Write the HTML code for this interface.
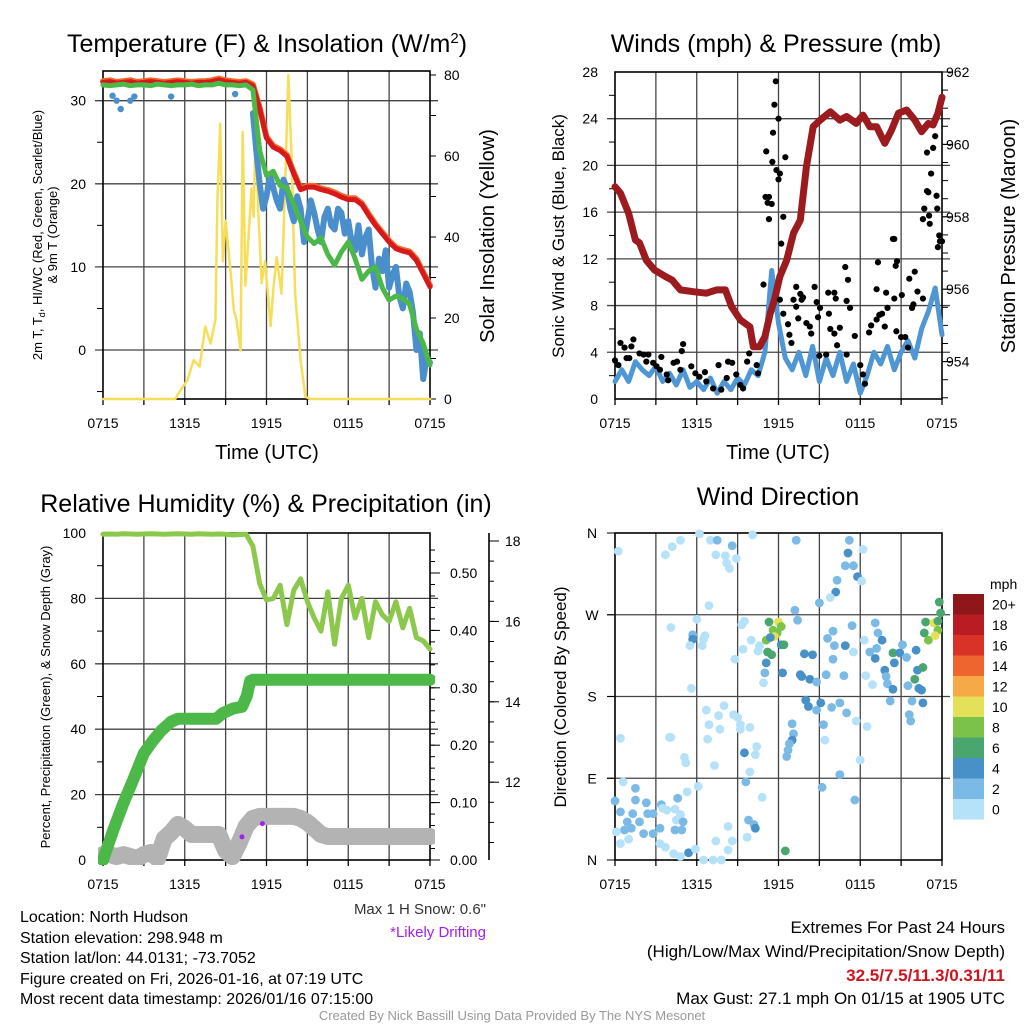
<!DOCTYPE html>
<html><head><meta charset="utf-8">
<style>
body{margin:0;background:#fff;width:1024px;height:1024px;overflow:hidden}
svg{display:block;font-family:"Liberation Sans",Arial,sans-serif}
</style></head>
<body>
<svg id="chart" width="1024" height="1024" viewBox="0 0 1024 1024" xmlns="http://www.w3.org/2000/svg">
<defs>
<clipPath id="c1"><rect x="98" y="60" width="337" height="345"/></clipPath>
<clipPath id="c2"><rect x="610" y="60" width="337" height="345"/></clipPath>
<clipPath id="c3"><rect x="98" y="520" width="337" height="345"/></clipPath>
</defs>
<g id="layer"></g>
<!-- titles -->
<text x="267" y="52" font-size="25" text-anchor="middle">Temperature (F) &amp; Insolation (W/m<tspan dy="-9" font-size="15">2</tspan><tspan dy="9">)</tspan></text>
<text x="776" y="52" font-size="25" text-anchor="middle">Winds (mph) &amp; Pressure (mb)</text>
<text x="266" y="512" font-size="25" text-anchor="middle">Relative Humidity (%) &amp; Precipitation (in)</text>
<text x="778" y="505" font-size="25" text-anchor="middle">Wind Direction</text>
<!-- axis titles -->
<text transform="translate(42,235) rotate(-90)" font-size="13" text-anchor="middle">2m T, T<tspan dy="3" font-size="9">d</tspan><tspan dy="-3">, HI/WC (Red, Green, Scarlet/Blue)</tspan></text>
<text transform="translate(57,235) rotate(-90)" font-size="13" text-anchor="middle">&amp; 9m T (Orange)</text>
<text transform="translate(494,236) rotate(-90)" font-size="20" text-anchor="middle">Solar Insolation (Yellow)</text>
<text x="267" y="459" font-size="20" text-anchor="middle">Time (UTC)</text>
<text transform="translate(564,236) rotate(-90)" font-size="17" text-anchor="middle">Sonic Wind &amp; Gust (Blue, Black)</text>
<text transform="translate(1015,236) rotate(-90)" font-size="20" text-anchor="middle">Station Pressure (Maroon)</text>
<text x="778" y="459" font-size="20" text-anchor="middle">Time (UTC)</text>
<text transform="translate(50,697) rotate(-90)" font-size="13" text-anchor="middle">Percent, Precipitation (Green), &amp; Snow Depth (Gray)</text>
<text transform="translate(566,697) rotate(-90)" font-size="17" text-anchor="middle">Direction (Colored By Speed)</text>
<text x="990" y="589" font-size="14">mph</text>
<!-- info text -->
<g font-size="16">
<text x="20" y="922">Location: North Hudson</text>
<text x="20" y="943">Station elevation: 298.948 m</text>
<text x="20" y="963">Station lat/lon: 44.0131; -73.7052</text>
<text x="20" y="984">Figure created on Fri, 2026-01-16, at 07:19 UTC</text>
<text x="20" y="1004">Most recent data timestamp: 2026/01/16 07:15:00</text>
</g>
<text x="486" y="914" font-size="15" fill="#333" text-anchor="end">Max 1 H Snow: 0.6"</text>
<text x="486" y="937" font-size="15" fill="#a020f0" text-anchor="end">*Likely Drifting</text>
<g font-size="17" text-anchor="end">
<text x="1005" y="933">Extremes For Past 24 Hours</text>
<text x="1005" y="957">(High/Low/Max Wind/Precipitation/Snow Depth)</text>
<text x="1005" y="981" font-weight="bold" fill="#d0141e">32.5/7.5/11.3/0.31/11</text>
<text x="1005" y="1004">Max Gust: 27.1 mph On 01/15 at 1905 UTC</text>
</g>
<text x="512" y="1020" font-size="13" fill="#999" text-anchor="middle">Created By Nick Bassill Using Data Provided By The NYS Mesonet</text>
</svg>
<script>
// ===== data =====
const xTickLabels = ["0715","1315","1915","0115","0715"];
const halfHours = [];
for (let i = 0; i <= 48; i++) halfHours.push(i / 2);
const tempRed = [32.2,32.3,32.1,32.2,32.3,32.1,32.2,32.3,32.2,32.1,32.2,32.3,32.2,32.1,32.2,32.2,32.3,32.5,32.3,32.2,32.1,32.2,31.8,29.0,25.5,24.4,24.0,23.3,21.2,19.3,19.6,19.6,19.3,19.1,18.8,18.4,18.1,18.1,17.5,16.2,15.0,14.0,13.0,12.2,11.9,11.7,10.8,9.2,7.6];
const tempGreen = [31.9,31.8,31.9,32.0,31.8,31.9,31.9,31.8,32.0,31.9,31.8,31.9,31.9,32.0,31.8,31.9,31.9,32.1,31.9,31.9,31.8,31.9,31.3,24.0,21.0,21.5,19.8,19.5,17.5,15.5,13.6,12.8,13.5,11.5,10.2,11.8,13.0,11.0,8.5,9.5,10.0,7.5,6.0,6.5,6.2,5.5,2.5,0.8,-1.8];
const wcHours = [11,11.25,11.5,11.75,12,12.25,12.5,12.75,13,13.25,13.5,13.75,14,14.25,14.5,14.75,15,15.25,15.5,15.75,16,16.25,16.5,16.75,17,17.25,17.5,17.75,18,18.25,18.5,18.75,19,19.25,19.5,19.75,20,20.25,20.5,20.75,21,21.25,21.5,21.75,22,22.25,22.5,22.75,23,23.25,23.5,23.75,24];
const wcVals = [28.5,24,20,17,18.5,21,19.5,18,17,20.5,19.5,17,15.5,18.5,17,13,15.5,18,16.5,14.5,13,16,17,15,14.5,17,16.5,14,15.5,13,12,15,11.5,13.5,14.5,10,7.5,11,9.5,12,7.5,9,10,6.5,5,8,7,4.5,0,2,-3.5,-1,-1.5];
const wcEarlyHours = [0.7,1.0,1.3,2.0,2.3,5.0,9.7];
const wcEarlyVals = [30.6,30.0,29.0,30.0,30.5,30.5,30.8];
const insolHours = [0,5.3,5.55,6.2,6.65,7.1,7.5,7.9,8.25,8.4,8.6,8.8,9.0,9.35,9.6,9.8,10.1,10.25,10.45,10.7,10.9,11.05,11.2,11.4,11.65,11.9,12.3,12.5,12.75,13.1,13.4,13.6,13.85,14.1,14.5,14.85,15.2,24];
const insolVals = [0,0,1.4,4.7,9.6,8,17.9,13.7,19.5,49,68,34,44,32,22,19.5,12,66,28,41,52,45,66,46,28.6,34,18,27,35,26,56.5,80,59,26,9.6,0.6,0,0];
const windVals = [1.5,2.5,1.5,3.2,2.5,2.0,2.8,1.5,2.2,1.2,2.5,1.0,1.5,0.8,1.8,0.5,1.5,0.8,1.8,1.2,2.5,2.0,4.0,11.0,6.5,3.5,2.5,4.0,2.0,4.5,1.5,3.5,2.0,4.0,1.5,3.0,0.5,2.0,4.0,3.0,4.5,2.5,4.0,5.0,3.5,6.0,7.5,9.5,5.5];
const presHours = [0,0.4,1.0,1.5,1.8,2.3,2.9,3.7,4.2,4.8,5.75,6.7,7.45,8.1,8.55,9.2,9.9,10.15,10.6,11.0,11.4,11.7,12.1,12.6,13.1,13.6,14.05,14.55,15.05,15.8,16.5,17.0,17.7,18.2,18.7,19.2,19.8,20.3,20.8,21.4,22.0,22.5,23.0,23.35,23.7,24];
const presVals = [958.83,958.65,958.1,957.36,957.28,956.8,956.53,956.35,956.25,955.98,955.93,955.89,955.98,955.98,955.52,955.15,954.96,954.41,954.41,954.69,955.34,955.7,956.35,956.8,957.55,957.91,959.38,960.49,960.67,960.9,960.67,960.77,960.58,960.81,960.49,960.49,960.03,960.4,960.86,960.95,960.67,960.35,960.58,960.54,960.86,961.3];
const gustHours = [0,0.4,0.25,0.7,0.85,1.2,1.35,1.05,1.8,2.1,2.45,2.3,2.8,3.05,3.4,3.3,3.8,3.9,4.3,4.55,4.9,5.0,4.8,5.6,5.9,6.2,6.6,6.7,7.2,7.6,7.8,8.3,8.6,8.2,8.9,9.2,9.4,9.7,9.85,10.4,10.5,10.9,11.05,11.3,11.1,11.2,11.5,11.3,11.55,11.6,11.7,11.8,11.85,12.0,12.0,12.1,12.2,12.35,12.5,12.1,12.35,12.7,12.8,12.95,13.1,13.3,13.3,13.45,13.6,13.7,13.8,14.05,14.3,14.4,14.65,14.8,14.9,15.05,15.0,15.5,15.65,15.7,15.8,16.1,16.2,16.1,16.3,16.5,16.9,17.0,17.1,17.25,17.0,17.6,18.0,18.2,18.35,18.65,18.8,19.2,19.3,19.2,19.4,19.6,19.8,19.9,20.0,20.4,20.5,20.5,20.6,20.7,20.65,21.0,21.05,21.3,21.5,21.6,21.8,22.0,21.9,22.2,22.6,22.6,22.7,22.9,23.0,23.05,23.1,22.9,23.35,23.2,23.5,23.6,23.65,23.8,23.85,23.7,24.0];
const gustVals = [3.3,4.8,2.9,4.4,3.5,4.5,5.1,3.5,3.9,3.8,3.8,3.2,3.1,2.8,3.6,2.5,2.1,1.6,3.1,3.2,4.1,4.7,2.5,2.8,2.2,1.9,2.3,1.5,0.9,2.9,0.8,3.2,3.1,1.8,2.1,1.2,0.9,3.2,3.9,2.9,2.2,9.8,17.3,17.3,21.2,16.8,16.7,15.4,20.3,22.8,25.2,27.2,19.6,18.8,24.0,19.3,13.3,15.6,20.7,8.5,7.3,6.4,5.5,4.8,8.5,9.6,7.9,6.9,9.0,8.5,8.7,6.5,6.2,5.6,9.6,8.3,7.0,7.8,3.7,3.8,9.1,7.3,6.0,9.1,8.6,5.6,4.6,6.1,11.3,8.4,10.2,7.8,3.8,5.4,2.9,2.1,1.3,5.7,6.3,9.4,11.7,6.8,7.2,7.3,6.2,9.1,7.8,13.7,13.7,8.6,11.4,11.8,5.8,5.3,8.9,5.3,4.4,10.3,7.8,10.9,8.1,9.2,8.6,15.4,16.3,17.8,17.7,15.7,15.0,21.1,21.5,19.3,22.5,17.4,16.3,14.0,13.5,13.0,13.5];
const rhVals = [99.6,99.7,99.6,99.8,99.7,99.6,99.7,99.8,99.7,99.6,99.7,99.8,99.7,99.6,99.8,99.7,99.6,99.7,99.6,99.4,99.5,99.6,96,84.5,79.5,80,84,72,82.5,86,79,74,70,82,66,80,84,74,80,68,79,75,73,79,71,77,68,67,64.5];
const precipHours = [0,0.75,1.5,2.2,3.0,3.7,4.3,5.0,5.5,8.3,8.8,9.55,10.2,10.55,10.8,11.0,24];
const precipVals = [0,0.052,0.099,0.139,0.186,0.209,0.226,0.241,0.246,0.246,0.256,0.264,0.267,0.285,0.312,0.314,0.314];
const snowVals = [10.2,10.2,10.15,10.2,10.15,10.1,10.2,10.25,10.1,10.6,10.75,10.95,10.85,10.7,10.7,10.7,10.7,10.7,10.3,10.15,10.5,10.9,11.1,11.15,11.15,11.15,11.15,11.15,11.15,11.1,11.0,10.85,10.7,10.65,10.65,10.65,10.65,10.65,10.65,10.65,10.65,10.65,10.65,10.65,10.65,10.65,10.65,10.65,10.65];
const driftHours = [10.2,11.7];
const driftSnow = [10.64,10.97];
const dirHours = [0.24,4.8,4.2,3.7,6.2,7.0,7.5,7.4,8.1,8.6,8.9,8.2,8.4,10.1,13.3,17.2,17.1,18.2,16.9,17.5,17.8,18.1,16.3,16.2,15.8,15.0,13.2,13.4,6.9,6.0,4.1,5.7,5.7,6.6,6.5,5.5,6.4,9.5,9.3,8.8,9.4,10.0,10.6,10.5,11.3,12.0,12.2,11.6,11.9,11.7,11.1,11.4,12.2,12.4,11.2,11.5,11.1,11.0,10.9,12.3,12.5,13.9,14.5,13.6,13.7,14.3,14.8,15.5,16.8,16.0,15.6,16.1,16.9,17.4,16.0,14.0,14.2,14.8,15.1,15.9,16.5,17.0,17.7,18.5,13.0,13.1,13.0,12.8,12.7,12.6,15.3,15.4,18.0,16.5,15.2,17.6,18.3,17.5,18.7,19.1,19.3,19.6,19.2,19.1,19.8,19.9,20.0,20.4,20.2,20.4,20.5,20.9,21.1,21.4,22.1,22.2,22.6,22.0,22.3,22.5,22.6,21.8,21.6,21.7,21.5,18.9,18.4,23.8,23.9,22.8,23.4,23.7,22.7,23.0,23.5,23.7,0,0.4,1.5,1.5,2.3,1.3,0.9,0.7,1.2,1.8,2.1,2.4,2.8,3.4,3.5,3.8,2.8,3.3,4.6,4.4,4.8,4.5,5.0,4.4,4.9,0.1,0.4,1.0,0.4,0.6,5.3,6.1,3.3,3.7,4.3,4.8,5.4,5.9,6.5,7.2,7.8,7.4,8.3,8.6,8.3,9.7,9.8,10.2,10.3,10.8,9.6,9.9,9.5,10.3,10.4,9.9,9.2,9.2,9.0,8.7,8.0,7.6,7.7,6.9,6.7,6.8,7.3,5.1,5.2,4.0,4.1,5.6];
const dirDegs = [340,352,345,336,359,352,352,336,335,346,332,327,321,358,352,352,338,342,324,324,312,307,308,295,289,283,275,264,280,265,256,248,243,247,243,236,236,263,259,221,232,242,236,230,262,262,257,253,250,246,242,245,237,237,229,226,217,206,195,206,10,227,226,204,202,199,196,204,203,252,244,236,236,258,221,176,169,165,173,168,173,162,153,147,150,139,132,128,121,114,149,132,110,94,80,66,242,229,229,261,250,242,233,222,209,202,194,188,175,228,217,228,237,223,231,209,212,199,189,187,173,175,160,153,192,193,203,284,272,262,261,253,250,242,247,263,65,53,79,66,63,51,42,33,35,42,29,51,51,61,57,55,29,35,68,56,50,44,42,33,33,31,18,23,134,86,75,81,18,14,7,4,8,12,0,0,0,21,11,21,37,25,44,39,35,69,86,97,118,116,125,146,149,144,157,160,170,159,144,149,165,133,104,113,107,135,135,189];
const dirSpeeds = [1,1,1,1,1,1,3,1,1,3,1,1,1,1,3,3,5,1,3,3,5,1,3,5,1,3,3,3,1,1,1,3,5,1,1,1,1,1,1,1,1,1,1,1,7,11,9,9,9,11,9,5,5,7,7,7,5,3,1,5,7,5,5,5,5,5,3,3,3,3,3,3,5,3,3,5,5,3,5,3,3,3,1,1,3,3,5,3,3,3,3,1,1,3,3,3,1,1,3,3,3,5,3,5,5,3,3,5,3,7,5,5,3,3,5,5,7,7,5,5,5,3,3,3,3,1,1,7,7,7,11,9,7,9,11,7,3,3,3,3,3,3,3,3,3,3,3,3,3,3,1,1,3,3,3,1,1,1,3,3,3,1,1,1,1,1,1,1,1,1,1,1,5,1,1,1,1,1,1,1,1,1,3,3,5,1,3,1,5,1,1,1,1,1,1,1,1,1,1,1,1,1,1,1,1,1,1,1,1,1];
const cbLabels = ["20+","18","16","14","12","10","8","6","4","2","0"];
const cbColors = ["#8f1619","#b91c23","#d93327","#ef6530","#f5a947","#e5e05a","#7ac249","#4aa66f","#4890c8","#7bbae6","#b5e2f8"];

// ===== scales =====
const NS="http://www.w3.org/2000/svg";
const layer=document.getElementById('layer');
function mk(tag,attrs,parent){const e=document.createElementNS(NS,tag);for(const k in attrs)e.setAttribute(k,attrs[k]);(parent||layer).appendChild(e);return e;}
const xL=h=>103+h*(327/24);
const xR=h=>615+h*(327/24);
const yTemp=v=>350-v*8.31;
const yIns=v=>399-v*4.05;
const yWind=v=>399-v*11.68;
const yPres=v=>72+(962-v)*36.2;
const yRH=v=>860-v*3.27;
const yPrec=v=>860-v*574;
const ySnow=v=>541+(18-v)*40.2;
const yDir=v=>860-v*0.9083;
const speedColor=s=>cbColors[10-Math.min(10,Math.floor(s/2))];

function poly(hs,vs,xf,yf,color,w,clip,name){
  const pts=hs.map((h,i)=>xf(h).toFixed(1)+','+yf(vs[i]).toFixed(1)).join(' ');
  const p=mk('polyline',{points:pts,fill:'none',stroke:color,'stroke-width':w,'stroke-linejoin':'round','stroke-linecap':'round','clip-path':'url(#'+clip+')'});
  
  
  return p;
}
function txt(x,y,s,size,anchor,name){
  const t=mk('text',{x:x,y:y,'font-size':size,'text-anchor':anchor});
  t.textContent=s;
  
  
}
function frame(x0,x1,y0,y1,name){
  const g=mk('g',{});
  
  
  for(let h=3;h<24;h+=3){const x=x0+h*(x1-x0)/24;mk('line',{x1:x,y1:y0,x2:x,y2:y1,stroke:'#444','stroke-width':1.3},g);}
  mk('rect',{x:x0,y:y0,width:x1-x0,height:y1-y0,fill:'none',stroke:'#000','stroke-width':1.6},g);
  for(let i=0;i<=8;i++){const x=x0+i*(x1-x0)/8;mk('line',{x1:x,y1:y1,x2:x,y2:y1+6,stroke:'#000','stroke-width':1.3},g);}
  xTickLabels.forEach((s,i)=>txt(x0+i*(x1-x0)/4,y1+29,s,14,'middle','x-tick-label'));
  return g;
}
function hgrid(x0,x1,ys){ys.forEach(y=>{const l=mk('line',{x1:x0-8,y1:y,x2:x1+8,y2:y,stroke:'#444','stroke-width':1.3});});}
function ticks(x,ys,len){ys.forEach(y=>mk('line',{x1:x,y1:y,x2:x+len,y2:y,stroke:'#000','stroke-width':1}));}

// ===== Panel 1 =====
hgrid(103,430,[30,20,10,0].map(yTemp));
frame(103,430,71,399,'temperature-plot-frame');
ticks(103,[25,15,5,-5].map(yTemp),-6);
[30,20,10,0].forEach(v=>txt(86,yTemp(v)+5,String(v),14,'end','temp-tick-label'));
ticks(430,[0,10,20,30,40,50,60,70,80].map(yIns),6);
[0,20,40,60,80].forEach(v=>txt(444,yIns(v)+5,String(v),14,'start','insolation-tick-label'));
poly(insolHours,insolVals,xL,yIns,'#f7de5a',2.5,'c1','insolation-line');
poly(halfHours,tempRed.map(v=>v+0.15),xL,yTemp,'#f26b2e',6,'c1','temp-9m-line');
poly(halfHours,tempRed,xL,yTemp,'#d7191c',5,'c1','temp-2m-line');
poly(wcHours,wcVals,xL,yTemp,'#4a8fcc',6,'c1','windchill-line');
poly(halfHours,tempGreen,xL,yTemp,'#4cb848',5,'c1','dewpoint-line');
wcEarlyHours.forEach((h,i)=>{const c=mk('circle',{cx:xL(h),cy:yTemp(wcEarlyVals[i]),r:3.2,fill:'#4a8fcc'});});

// ===== Panel 2 =====
hgrid(615,942,[4,8,12,16,20,24].map(yWind));
frame(615,942,72,399,'wind-plot-frame');
ticks(615,[2,6,10,14,18,22,26].map(yWind),-6);
[0,4,8,12,16,20,24,28].forEach(v=>txt(598,yWind(v)+5,String(v),14,'end','wind-tick-label'));
const pt=[];for(let v=953;v<=962;v+=0.5)pt.push(v);
ticks(942,pt.map(yPres),6);
[954,956,958,960,962].forEach(v=>{ticks(942,[yPres(v)],10);txt(946,yPres(v)+5,String(v),14,'start','pressure-tick-label');});
poly(halfHours,windVals,xR,yWind,'#4f97d4',5,'c2','sonic-wind-line');
poly(presHours,presVals,xR,yPres,'#9b1b1e',7,'c2','pressure-line');
gustHours.forEach((h,i)=>{const c=mk('circle',{cx:xR(h),cy:yWind(gustVals[i]),r:3.1,fill:'#000'});});

// ===== Panel 3 =====
hgrid(103,430,[20,40,60,80].map(yRH));
frame(103,430,533,860,'humidity-plot-frame');
ticks(103,[10,30,50,70,90].map(yRH),-6);
[0,20,40,60,80,100].forEach(v=>txt(86,yRH(v)+5,String(v),14,'end','rh-tick-label'));
const pp=[];for(let v=0;v<=0.56;v+=0.02)pp.push(v);
ticks(430,pp.map(yPrec),5);
[0,0.1,0.2,0.3,0.4,0.5].forEach(v=>{ticks(430,[yPrec(v)],10);txt(450,yPrec(v)+5,v.toFixed(2),14,'start','precip-tick-label');});
mk('line',{x1:489,y1:533,x2:489,y2:860,stroke:'#000','stroke-width':1.6});
const sp=[];for(let v=10.5;v<=18;v+=0.5)sp.push(v);
ticks(489,sp.map(ySnow),5);
[12,14,16,18].forEach(v=>{ticks(489,[ySnow(v)],10);txt(505,ySnow(v)+5,String(v),14,'start','snow-tick-label');});
poly(halfHours,snowVals,xL,ySnow,'#b3b3b3',17,'c3','snow-depth-line');
poly(precipHours,precipVals,xL,yPrec,'#4cb848',12,'c3','precip-line');
poly(halfHours,rhVals,xL,yRH,'#8cc84b',5,'c3','rh-line');
driftHours.forEach((h,i)=>{const c=mk('circle',{cx:xL(h),cy:ySnow(driftSnow[i]),r:2.5,fill:'#a020f0'});});

// ===== Panel 4 =====
hgrid(615,942,[90,180,270].map(yDir));
frame(615,942,533,860,'direction-plot-frame');
ticks(615,[0,90,180,270,360].map(yDir),-8);
["N","E","S","W","N"].forEach((s,i)=>txt(592,yDir(i*90)+5,s,14,'middle','direction-tick-label'));
dirHours.forEach((h,i)=>{const c=mk('circle',{cx:xR(h),cy:yDir(dirDegs[i]),r:4.4,fill:speedColor(dirSpeeds[i])});});
cbColors.forEach((col,i)=>{const r=mk('rect',{x:953,y:594+i*20.5,width:31,height:20.6,fill:col});
  txt(992,594+i*20.5+15.5,cbLabels[i],14,'start','colorbar-label');});
</script>
</body></html>
